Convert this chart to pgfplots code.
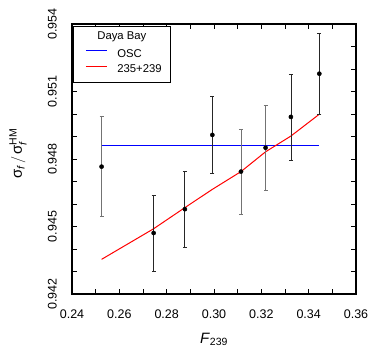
\documentclass[border=0pt]{standalone}
\usepackage{amsmath}
\usepackage{pgfplots}
\pgfplotsset{compat=1.18}
\usepackage{fontspec}
\setmainfont{Liberation Sans}
\definecolor{oscblue}{RGB}{0,0,255}
\definecolor{fitred}{RGB}{255,0,0}
\begin{document}
\begin{tikzpicture}
\useasboundingbox (-72pt,-53pt) rectangle (298pt,294pt);
\begin{axis}[
 at={(0,0)}, anchor=south west,
 scale only axis, width=284pt, height=270pt,
 xmin=0.24, xmax=0.36, ymin=0.942, ymax=0.954,
 xtick={0.24,0.26,0.28,0.30,0.32,0.34,0.36},
 minor xtick={0.25,0.27,0.29,0.31,0.33,0.35},
 ytick={0.942,0.945,0.948,0.951,0.954},
 minor ytick={0.943,0.944,0.946,0.947,0.949,0.950,0.952,0.953},
 tick align=inside, major tick length=5pt, minor tick length=5pt,
 tick style={black, line width=0.9pt},
 axis line style={line width=1.3pt},
 scaled ticks=false,
 /pgf/number format/assume math mode=true,
 x tick label style={/pgf/number format/fixed, /pgf/number format/fixed zerofill, /pgf/number format/precision=2, anchor=north, yshift=-12pt},
 y tick label style={/pgf/number format/fixed, /pgf/number format/fixed zerofill, /pgf/number format/precision=3, rotate=90, anchor=south, inner ysep=15pt},
 tick label style={font=\fontsize{12.5}{14}\selectfont},
 label style={font=\fontsize{15}{17}\selectfont},
 xlabel={\textit{F}\textsubscript{239}},
 ylabel={$\text{σ}_{\textit{f}}\,/\,\text{σ}_{\textit{f}}^{\text{HM}}$},
 xlabel style={at={(axis description cs:0.5,-0.167)}, anchor=center},
 ylabel style={at={(axis description cs:-0.19,0.52)}, anchor=center},
 legend style={at={(axis description cs:0.0046,0.9926)}, anchor=north west, draw=black, line width=0.8pt,
   font=\fontsize{11.3}{13}\selectfont, row sep=4pt, column sep=10pt,
   inner xsep=9.2pt, inner ysep=7.3pt,
   nodes={inner sep=0pt, text height=8.5pt, text depth=2.5pt}},
 legend cell align=left,
]
\addlegendimage{empty legend}
\addlegendentry{\hspace*{-20pt}\raisebox{2.6pt}{Daya Bay}}
\addlegendimage{legend image code/.code={\path (0pt,0pt); \draw[oscblue, line width=1pt] (2.5pt,3.5pt) -- (23.5pt,3.5pt);}}
\addlegendentry{OSC}
\addlegendimage{legend image code/.code={\path (0pt,0pt); \draw[fitred, line width=1.1pt] (2.5pt,3pt) -- (23.5pt,3pt);}}
\addlegendentry{235+239}
\addplot[forget plot, oscblue, line width=1pt, mark=none] table {
x y
0.2525 0.94859
0.3445 0.94859
};
\addplot[forget plot, fitred, line width=1pt, mark=none] table {
x y
0.2525 0.94354
0.2745 0.94490
0.2877 0.94584
0.2993 0.94665
0.3114 0.94744
0.3218 0.94832
0.3325 0.94902
0.3445 0.94999
};
\addplot[forget plot, only marks, mark=*, mark size=2.1pt, black,
  error bars/.cd, y dir=both, y explicit, error mark options={rotate=90, mark size=2pt, line width=0.6pt},
  error bar style={line width=0.8pt, black!85}]
  coordinates {
  (0.2745,0.94471) +- (0,0.00168)
  (0.2877,0.94577) +- (0,0.00170)
  (0.2993,0.94907) +- (0,0.00172)
  (0.3325,0.94987) +- (0,0.00191)
  (0.3445,0.95179) +- (0,0.00181)};
\addplot[forget plot, only marks, mark=*, mark size=2.1pt, black,
  error bars/.cd, y dir=both, y explicit, error mark options={rotate=90, mark size=2pt, line width=0.6pt, black!55},
  error bar style={line width=0.8pt, black!55}]
  coordinates {
  (0.2525,0.94766) +- (0,0.00222)
  (0.3114,0.94744) +- (0,0.00189)
  (0.3218,0.94850) +- (0,0.00189)};
\end{axis}
\end{tikzpicture}
\end{document}
